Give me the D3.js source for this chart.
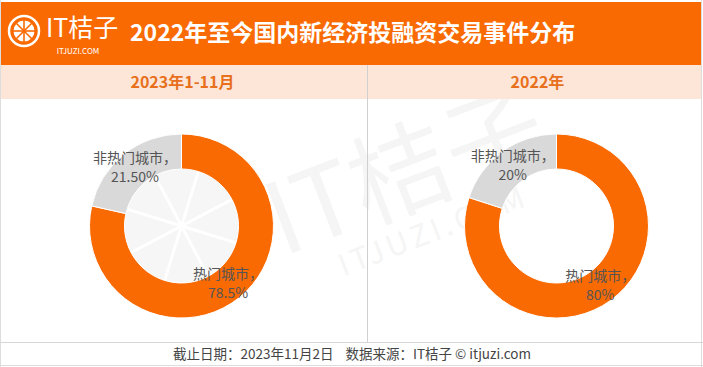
<!DOCTYPE html>
<html>
<head>
<meta charset="utf-8">
<script src="https://cdn.jsdelivr.net/npm/d3@7"></script>
<style>
body { margin: 0; background: #fff; }
text { font-family: "Noto Sans CJK SC", "Noto Sans", sans-serif; }
</style>
</head>
<body>
<div id="chart"></div>
<script>
var title = "2022年至今国内新经济投融资交易事件分布";
var panels = ["2023年1-11月", "2022年"];
var categories = ["热门城市", "非热门城市"];
var hotValues = [78.5, 80];
var coldValues = [21.5, 20];
var valueLabels = [["78.5%", "21.50%"], ["80%", "20%"]];
var footer = "截止日期：2023年11月2日    数据来源：IT桔子 © itjuzi.com";

var width = 703, height = 367;
var orange = "#fa6a03", grey = "#d9d9d9";

var svg = d3.select("#chart").append("svg")
	.attr("width", width)
	.attr("height", height);

svg.append("rect").attr("x", 0).attr("y", 0).attr("width", width).attr("height", height).attr("fill", "#fff");

// watermark (under everything)
var wm = svg.append("g").attr("transform", "translate(418,205) rotate(-21)");
wm.append("text").attr("text-anchor", "middle").attr("y", 0)
	.attr("font-size", "100px").attr("fill", "#f5f5f5").text("IT桔子");
wm.append("text").attr("text-anchor", "middle").attr("y", 40).attr("x", 5)
	.attr("font-size", "30px").attr("letter-spacing", "4px").attr("fill", "#f5f5f5").text("ITJUZI.COM");

// header
svg.append("rect").attr("x", 1).attr("y", 2).attr("width", 700).attr("height", 63).attr("fill", orange);
svg.append("rect").attr("x", 1).attr("y", 65).attr("width", 700).attr("height", 34).attr("fill", "#fde6d8");

// logo
var logo = svg.append("g").attr("transform", "translate(24,31)");
logo.append("circle").attr("r", 15).attr("fill", "none").attr("stroke", "#fff").attr("stroke-width", 2.5);
logo.append("circle").attr("r", 10.5).attr("fill", "#fff");
d3.range(8).forEach(function(i){
	var a = i * Math.PI / 4;
	logo.append("line")
		.attr("x1", 0).attr("y1", 0)
		.attr("x2", 11 * Math.sin(a)).attr("y2", -11 * Math.cos(a))
		.attr("stroke", orange).attr("stroke-width", 1.6);
});
svg.append("text").attr("x", 46).attr("y", 37).attr("fill", "#fff")
	.attr("font-size", "25px").text("IT桔子");
svg.append("text").attr("x", 78).attr("y", 54).attr("fill", "#fff")
	.attr("font-size", "8px").attr("text-anchor", "middle").text("ITJUZI.COM");

svg.append("text").attr("x", 130).attr("y", 41).attr("fill", "#fff")
	.attr("font-size", "23px").attr("font-weight", "bold").text(title);

// borders
svg.append("line").attr("x1", 0.5).attr("x2", 0.5).attr("y1", 0).attr("y2", height).attr("stroke", "#ddd");
svg.append("line").attr("x1", 701.5).attr("x2", 701.5).attr("y1", 0).attr("y2", height).attr("stroke", "#ddd");
svg.append("line").attr("x1", 367.5).attr("x2", 367.5).attr("y1", 65).attr("y2", 342).attr("stroke", "#d0d0d0");
svg.append("line").attr("x1", 0).attr("x2", width).attr("y1", 342.5).attr("y2", 342.5).attr("stroke", "#d6d6d6");
svg.append("line").attr("x1", 0).attr("x2", width).attr("y1", 365.5).attr("y2", 365.5).attr("stroke", "#ddd");

var x = d3.scaleBand().domain(panels).range([0, 734]);
var rOuter = 92, rInner = 57;
var pie = d3.pie().sort(null).value(function(d){ return d.value; });
var arc = d3.arc().innerRadius(rInner).outerRadius(rOuter);
var labelArc = d3.arc().innerRadius(74.5).outerRadius(74.5);

panels.forEach(function(p, i){
	var cx = x(p) + x.bandwidth() / 2 - (i === 0 ? 2 : -6);
	var cy = 226;
	svg.append("text").attr("x", x(p) + x.bandwidth() / 2 - (i === 0 ? 1 : 13)).attr("y", 88)
		.attr("text-anchor", "middle").attr("font-size", "16px").attr("font-weight", "bold")
		.attr("fill", "#e8701c").text(p);

	var data = [
		{name: categories[0], value: hotValues[i], label: valueLabels[i][0]},
		{name: categories[1], value: coldValues[i], label: valueLabels[i][1]}
	];
	var g = svg.append("g").attr("transform", "translate(" + cx + "," + cy + ")");
	if (i === 0) {
		// faint logo watermark in hole
		g.append("circle").attr("r", rInner).attr("fill", "#f6f6f6");
		d3.range(8).forEach(function(k){
			var a = k * Math.PI / 4 + 0.3;
			g.append("line").attr("x1", 0).attr("y1", 0)
				.attr("x2", rInner * Math.sin(a)).attr("y2", -rInner * Math.cos(a))
				.attr("stroke", "#fff").attr("stroke-width", 3);
		});
	}
	g.selectAll("path").data(pie(data)).enter().append("path")
		.attr("d", arc)
		.attr("fill", function(d, j){ return j === 0 ? orange : grey; })
		.attr("stroke", "#fff").attr("stroke-width", 1);
	var lab = g.selectAll("g.lab").data(pie(data)).enter().append("g")
		.attr("class", "lab")
		.attr("transform", function(d){ var c = labelArc.centroid(d); return "translate(" + c[0] + "," + c[1] + ")"; });
	lab.append("text").attr("text-anchor", "middle").attr("y", -5)
		.attr("font-size", "14px").attr("fill", "#555")
		.text(function(d){ return d.data.name + "，"; });
	lab.append("text").attr("text-anchor", "middle").attr("y", 14)
		.attr("font-size", "14px").attr("fill", "#555")
		.text(function(d){ return d.data.label; });
});

svg.append("text").attr("x", 352).attr("y", 359).attr("text-anchor", "middle")
	.attr("font-size", "13.5px").attr("fill", "#444").attr("xml:space", "preserve")
	.style("white-space", "pre").text(footer);
</script>
</body>
</html>
